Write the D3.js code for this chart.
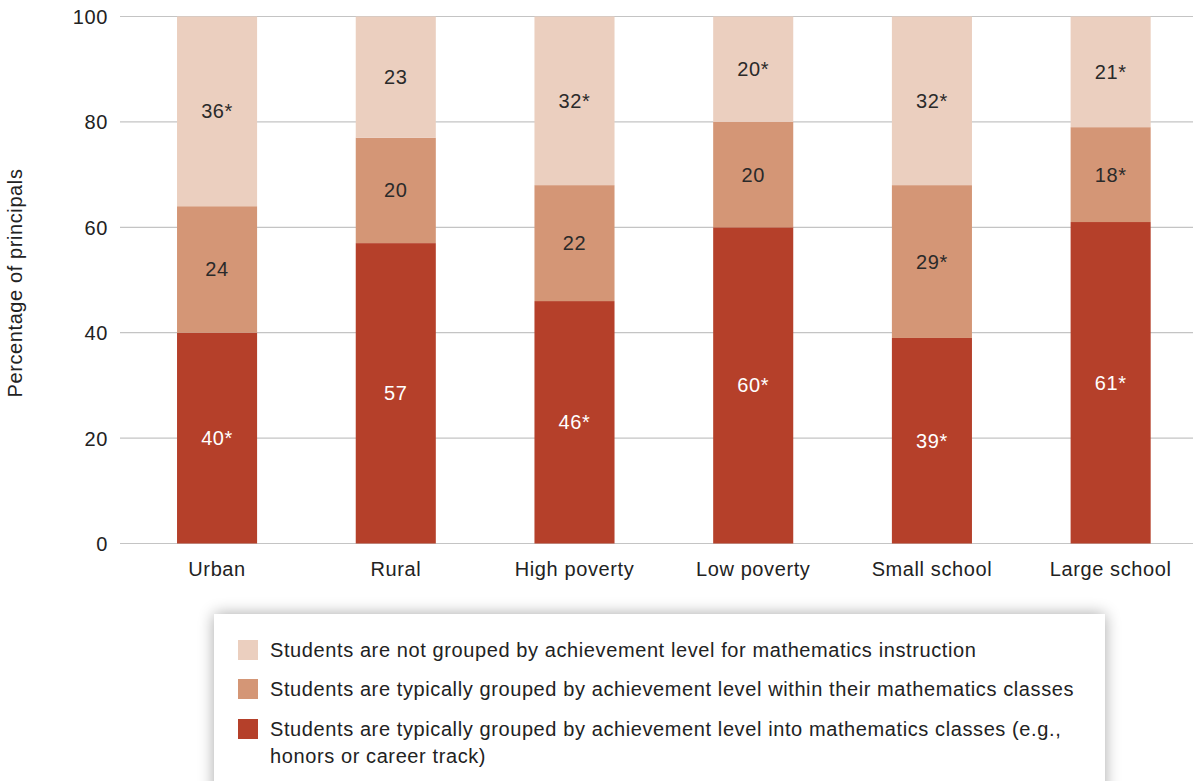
<!DOCTYPE html>
<html>
<head>
<meta charset="utf-8">
<script src="https://cdn.jsdelivr.net/npm/d3@7"></script>
<style>
  html, body { margin: 0; padding: 0; background: #fff; }
  body { width: 1193px; height: 781px; overflow: hidden; }
  svg { display: block; font-family: "Liberation Sans", Arial, Helvetica, sans-serif; letter-spacing: 0.6px; }
</style>
</head>
<body>
<svg id="chart" width="1193" height="781"></svg>
<script>
// School categories along the x axis
const categories = ["Urban", "Rural", "High poverty", "Low poverty", "Small school", "Large school"];

// Percentage of principals per grouping practice (stacked bottom to top)
const intoClasses   = [40, 57, 46, 60, 39, 61];
const withinClasses = [24, 20, 22, 20, 29, 18];
const notGrouped    = [36, 23, 32, 20, 32, 21];

// Value labels; an asterisk marks a significant difference
const intoLabels   = ["40*", "57", "46*", "60*", "39*", "61*"];
const withinLabels = ["24", "20", "22", "20", "29*", "18*"];
const notLabels    = ["36*", "23", "32*", "20*", "32*", "21*"];

const yTicks = [0, 20, 40, 60, 80, 100];

const seriesNames = [
  "Students are typically grouped by achievement level into mathematics classes (e.g., honors or career track)",
  "Students are typically grouped by achievement level within their mathematics classes",
  "Students are not grouped by achievement level for mathematics instruction"
];

const colors = ["#b5402a", "#d49676", "#ebcfbf"];
const labelColors = ["#ffffff", "#2a2a2a", "#2a2a2a"];
const FS = 20;

const svg = d3.select("#chart");

const x = d3.scaleBand().domain(categories).range([127.7, 1200]).paddingInner(0.552).paddingOuter(0.276);
const y = d3.scaleLinear().domain([0, 100]).range([543.5, 16.5]);

// Gridlines
svg.append("g")
  .selectAll("line")
  .data(yTicks)
  .join("line")
  .attr("x1", 120).attr("x2", 1193)
  .attr("y1", d => y(d)).attr("y2", d => y(d))
  .attr("stroke", "#c4c4c4").attr("stroke-width", 1.2);

// Y axis labels
const yAxis = d3.axisLeft(y).tickValues(yTicks).tickSize(0).tickPadding(0);
const yg = svg.append("g").attr("transform", "translate(108,0)").call(yAxis);
yg.select(".domain").remove();
yg.selectAll("text").attr("font-size", FS).attr("fill", "#222").attr("dy", "0.35em")
  .attr("font-family", "'Liberation Sans', Arial, sans-serif");

// Y axis title
svg.append("text")
  .attr("transform", "translate(22,283) rotate(-90)")
  .attr("text-anchor", "middle")
  .attr("font-size", FS)
  .attr("fill", "#222")
  .text("Percentage of principals");

// Stacked data
const rows = categories.map((c, i) => ({
  cat: c, s0: intoClasses[i], s1: withinClasses[i], s2: notGrouped[i],
  l0: intoLabels[i], l1: withinLabels[i], l2: notLabels[i]
}));
const stack = d3.stack().keys(["s0", "s1", "s2"]);
const layers = stack(rows);

const layerG = svg.append("g")
  .selectAll("g")
  .data(layers)
  .join("g")
  .attr("fill", (d, i) => colors[i]);

layerG.selectAll("rect")
  .data(d => d)
  .join("rect")
  .attr("x", d => x(d.data.cat))
  .attr("width", x.bandwidth())
  .attr("y", d => y(d[1]))
  .attr("height", d => y(d[0]) - y(d[1]));

// Segment value labels
layers.forEach((layer, li) => {
  svg.append("g")
    .selectAll("text")
    .data(layer)
    .join("text")
    .attr("x", d => x(d.data.cat) + x.bandwidth() / 2)
    .attr("y", d => y((d[0] + d[1]) / 2))
    .attr("dy", "0.35em")
    .attr("text-anchor", "middle")
    .attr("font-size", FS)
    .attr("fill", labelColors[li])
    .text(d => d.data["l" + li]);
});

// X axis labels
const xAxis = d3.axisBottom(x).tickSize(0).tickPadding(0);
const xg = svg.append("g").attr("transform", "translate(0,569)").call(xAxis);
xg.select(".domain").remove();
xg.selectAll("text").attr("font-size", FS).attr("fill", "#222").attr("dy", "0.35em")
  .attr("font-family", "'Liberation Sans', Arial, sans-serif");

// Legend box with soft shadow
const defs = svg.append("defs");
const f = defs.append("filter").attr("id", "shadow")
  .attr("x", "-10%").attr("y", "-40%").attr("width", "120%").attr("height", "180%");
f.append("feGaussianBlur").attr("in", "SourceAlpha").attr("stdDeviation", 8).attr("result", "blur");
f.append("feComponentTransfer").append("feFuncA").attr("type", "linear").attr("slope", 0.35);
const merge = f.append("feMerge");
merge.append("feMergeNode");
merge.append("feMergeNode").attr("in", "SourceGraphic");

svg.append("rect")
  .attr("x", 214).attr("y", 614)
  .attr("width", 891).attr("height", 200)
  .attr("fill", "#fff")
  .attr("filter", "url(#shadow)");

const legendOrder = [2, 1, 0];
const legendY = [650, 689, 729];
const legend = svg.append("g");
legendOrder.forEach((si, k) => {
  legend.append("rect")
    .attr("x", 238).attr("y", legendY[k] - 10)
    .attr("width", 20).attr("height", 20)
    .attr("fill", colors[si]);
  const t = legend.append("text")
    .attr("x", 270).attr("y", legendY[k])
    .attr("dy", "0.35em")
    .attr("font-size", FS)
    .attr("fill", "#222");
  if (si === 0) {
    t.append("tspan").attr("x", 270).text("Students are typically grouped by achievement level into mathematics classes (e.g.,");
    t.append("tspan").attr("x", 270).attr("dy", "1.35em").text("honors or career track)");
  } else {
    t.text(seriesNames[si]);
  }
});
</script>
</body>
</html>
